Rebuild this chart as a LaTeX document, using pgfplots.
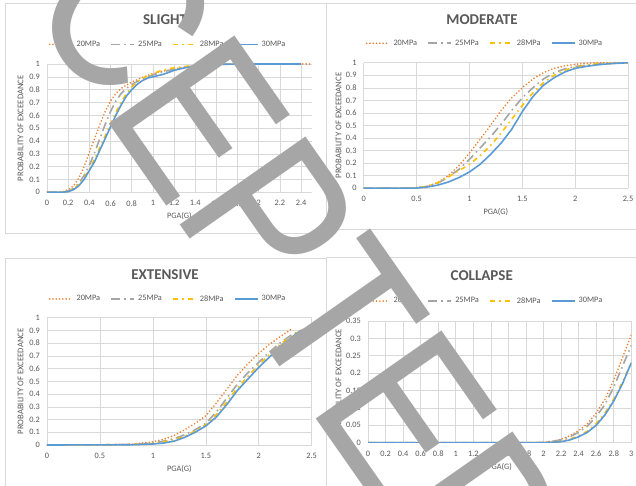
\documentclass[border=0pt]{standalone}
\usepackage{fontspec}
\setmainfont{Carlito}
\newfontfamily\wmfont{Liberation Sans}
\usepackage{graphicx}
\usepackage{pgfplots}
\pgfplotsset{compat=1.18}

\definecolor{c20}{HTML}{ED7D31}
\definecolor{c25}{HTML}{A5A5A5}
\definecolor{c28}{HTML}{FFC000}
\definecolor{c30}{HTML}{5B9BD5}
\definecolor{gridc}{HTML}{D9D9D9}
\definecolor{tc}{HTML}{595959}
\definecolor{wm}{RGB}{166,166,166}

\newcommand{\smallf}{\fontsize{8.3pt}{10pt}\selectfont}
\newcommand{\titlef}{\fontsize{15pt}{18pt}\selectfont\bfseries}

\pgfplotsset{
  panel/.style={
    scale only axis, anchor=south west,
    axis line style={draw=none},
    major tick length=0pt,
    grid=major, grid style={gridc, line width=0.6pt},
    tick label style={font=\smallf, text=tc, inner sep=0pt},
    xticklabel style={anchor=north},
    yticklabel style={anchor=east},
    xticklabel shift=8pt, yticklabel shift=7pt,
    /pgf/number format/assume math mode=true,
    /pgf/number format/fixed, /pgf/number format/precision=2,
    scaled ticks=false,
    xlabel={PGA(G)}, ylabel={PROBABILITY OF EXCEEDANCE},
    xlabel style={font=\smallf, text=tc, at={(axis description cs:0.5,0)}, yshift=-24pt, anchor=center, inner sep=0pt},
    ylabel style={font=\fontsize{8.7pt}{10pt}\selectfont, text=tc, anchor=center, inner sep=0pt},
    legend columns=4,
    legend image code/.code={\draw[##1] (0pt,0pt) -- (23pt,0pt);},
    legend style={draw=none, fill=none, font=\smallf, text=tc, anchor=center,
      nodes={inner sep=0pt},
      /tikz/every odd column/.append style={column sep=3pt},
      /tikz/every even column/.append style={column sep=10.5pt}},
    legend cell align=left,
  },
  s20/.style={c20, line width=1.8pt, line cap=round, dash pattern=on 0pt off 3.3pt},
  s25/.style={c25, line width=1.6pt, dash pattern=on 9pt off 4pt on 1.5pt off 4pt},
  s28/.style={c28, line width=1.6pt, dash pattern=on 5pt off 4pt on 1.5pt off 4pt},
  s30/.style={c30, line width=1.6pt},
}

\begin{document}
\begin{tikzpicture}[x=1pt,y=1pt]
\useasboundingbox (0,0) rectangle (636,485);
\clip (0,0) rectangle (636,485);
\fill[white] (0,0) rectangle (636,485);
% chart area borders
\draw[gridc, line width=0.8pt] (5,252) rectangle (326,482);
\draw[gridc, line width=0.8pt] (326,256) rectangle (640,482);
\draw[gridc, line width=0.8pt] (5,-5) rectangle (326,227);
\draw[gridc, line width=0.8pt] (326,-5) rectangle (640,227.5);

% ---------------- SLIGHT
\begin{axis}[panel, at={(47pt,292.7pt)}, width=264.7pt, height=128.3pt,
  xmin=0, xmax=2.5, ymin=0, ymax=1,
  xtick={0,0.2,0.4,0.6,0.8,1,1.2,1.4,1.6,1.8,2,2.2,2.4},
  ytick={0,0.1,0.2,0.3,0.4,0.5,0.6,0.7,0.8,0.9,1},
  ylabel style={at={(axis description cs:-0.0994,0.5)}},
  legend style={at={(axis description cs:0.4533,1.1535)}}]
\addplot[s20] coordinates {(0,0)(0.1,0)(0.15,0.005)(0.2,0.02)(0.25,0.05)(0.3,0.11)(0.35,0.2)(0.4,0.31)(0.45,0.42)(0.5,0.53)(0.55,0.63)(0.6,0.71)(0.65,0.77)(0.7,0.81)(0.8,0.86)(0.9,0.895)(1.0,0.925)(1.1,0.945)(1.2,0.96)(1.3,0.975)(1.4,0.985)(1.6,0.995)(1.8,1)(2.5,1)};
\addplot[s25] coordinates {(0,0)(0.15,0.002)(0.2,0.01)(0.25,0.03)(0.3,0.07)(0.35,0.13)(0.4,0.21)(0.45,0.31)(0.5,0.42)(0.55,0.53)(0.6,0.63)(0.65,0.71)(0.7,0.77)(0.75,0.81)(0.8,0.84)(0.9,0.885)(1.0,0.915)(1.1,0.94)(1.2,0.96)(1.3,0.975)(1.4,0.985)(1.6,0.996)(1.8,1)(2.4,1)};
\addplot[s28] coordinates {(0,0)(0.15,0.002)(0.2,0.01)(0.25,0.025)(0.3,0.06)(0.35,0.11)(0.4,0.18)(0.45,0.26)(0.5,0.35)(0.55,0.44)(0.6,0.53)(0.65,0.62)(0.7,0.7)(0.75,0.77)(0.8,0.82)(0.85,0.86)(0.9,0.89)(1.0,0.925)(1.1,0.955)(1.2,0.97)(1.3,0.98)(1.4,0.99)(1.6,0.998)(1.8,1)(2.4,1)};
\addplot[s30] coordinates {(0,0)(0.15,0.001)(0.2,0.005)(0.25,0.02)(0.3,0.05)(0.35,0.1)(0.4,0.17)(0.45,0.24)(0.5,0.33)(0.55,0.42)(0.6,0.51)(0.65,0.6)(0.7,0.68)(0.75,0.75)(0.8,0.8)(0.85,0.84)(0.9,0.87)(0.95,0.89)(1.0,0.9)(1.1,0.92)(1.2,0.95)(1.3,0.97)(1.4,0.985)(1.5,0.993)(1.6,0.998)(1.8,1)(2.4,1)};
\legend{20MPa,25MPa,28MPa,30MPa}
\end{axis}

% ---------------- MODERATE
\begin{axis}[panel, at={(363.7pt,296.7pt)}, width=264.3pt, height=125.6pt,
  xmin=0, xmax=2.5, ymin=0, ymax=1,
  xtick={0,0.5,1,1.5,2,2.5},
  ytick={0,0.1,0.2,0.3,0.4,0.5,0.6,0.7,0.8,0.9,1},
  ylabel style={at={(axis description cs:-0.0946,0.5)}},
  legend style={at={(axis description cs:0.455,1.1545)}}]
\addplot[s20] coordinates {(0,0)(0.4,0)(0.5,0.005)(0.6,0.015)(0.7,0.045)(0.8,0.1)(0.9,0.18)(1.0,0.28)(1.1,0.39)(1.2,0.5)(1.3,0.62)(1.4,0.72)(1.5,0.8)(1.6,0.87)(1.7,0.92)(1.8,0.955)(1.9,0.975)(2.0,0.987)(2.1,0.995)(2.2,1)(2.5,1)};
\addplot[s25] coordinates {(0,0)(0.4,0)(0.5,0.005)(0.6,0.015)(0.7,0.04)(0.8,0.09)(0.9,0.15)(1.0,0.23)(1.1,0.32)(1.2,0.41)(1.3,0.51)(1.4,0.62)(1.5,0.72)(1.6,0.8)(1.7,0.87)(1.8,0.92)(1.9,0.95)(2.0,0.97)(2.2,0.99)(2.4,1)(2.5,1)};
\addplot[s28] coordinates {(0,0)(0.4,0)(0.5,0.005)(0.6,0.015)(0.7,0.045)(0.8,0.09)(0.9,0.14)(1.0,0.19)(1.1,0.26)(1.2,0.34)(1.3,0.44)(1.4,0.55)(1.5,0.66)(1.6,0.76)(1.7,0.84)(1.8,0.9)(1.9,0.94)(2.0,0.965)(2.2,0.99)(2.5,1)};
\addplot[s30] coordinates {(0,0)(0.5,0.002)(0.6,0.01)(0.7,0.025)(0.8,0.05)(0.9,0.085)(1.0,0.13)(1.1,0.19)(1.2,0.27)(1.3,0.36)(1.4,0.47)(1.5,0.61)(1.6,0.73)(1.7,0.82)(1.8,0.88)(1.9,0.925)(2.0,0.955)(2.1,0.97)(2.2,0.982)(2.3,0.99)(2.5,1)};
\legend{20MPa,25MPa,28MPa,30MPa}
\end{axis}

% ---------------- EXTENSIVE
\begin{axis}[panel, at={(47pt,40pt)}, width=264.7pt, height=127.3pt,
  xmin=0, xmax=2.5, ymin=0, ymax=1,
  xtick={0,0.5,1,1.5,2,2.5},
  ytick={0,0.1,0.2,0.3,0.4,0.5,0.6,0.7,0.8,0.9,1},
  ylabel style={at={(axis description cs:-0.0994,0.5)}},
  legend style={at={(axis description cs:0.4533,1.147)}}]
\addplot[s20] coordinates {(0,0)(0.5,0.001)(0.8,0.006)(1.0,0.025)(1.1,0.045)(1.2,0.075)(1.3,0.12)(1.4,0.17)(1.5,0.23)(1.6,0.33)(1.7,0.44)(1.8,0.55)(1.9,0.64)(2.0,0.72)(2.1,0.79)(2.2,0.85)(2.3,0.905)};
\addplot[s25] coordinates {(0,0)(0.5,0.001)(0.8,0.004)(1.0,0.015)(1.1,0.03)(1.2,0.05)(1.3,0.08)(1.4,0.12)(1.5,0.17)(1.6,0.26)(1.7,0.37)(1.8,0.48)(1.9,0.57)(2.0,0.65)(2.1,0.73)(2.2,0.8)(2.3,0.86)(2.4,0.9)(2.5,0.93)};
\addplot[s28] coordinates {(0,0)(0.5,0.001)(0.8,0.004)(1.0,0.012)(1.1,0.025)(1.2,0.04)(1.3,0.07)(1.4,0.11)(1.5,0.16)(1.6,0.24)(1.7,0.34)(1.8,0.45)(1.9,0.54)(2.0,0.63)(2.1,0.71)(2.2,0.79)(2.3,0.85)(2.4,0.9)(2.5,0.93)};
\addplot[s30] coordinates {(0,0)(0.8,0.002)(1.0,0.008)(1.1,0.015)(1.2,0.03)(1.3,0.06)(1.4,0.1)(1.5,0.15)(1.6,0.22)(1.7,0.32)(1.8,0.43)(1.9,0.52)(2.0,0.61)(2.1,0.69)(2.2,0.77)(2.3,0.84)(2.4,0.9)};
\legend{20MPa,25MPa,28MPa,30MPa}
\end{axis}

% ---------------- COLLAPSE
\begin{axis}[panel, at={(368pt,42.3pt)}, width=263.3pt, height=121.7pt,
  xmin=0, xmax=3, ymin=0, ymax=0.35,
  xtick={0,0.2,0.4,0.6,0.8,1,1.2,1.4,1.6,1.8,2,2.2,2.4,2.6,2.8,3},
  ytick={0,0.05,0.1,0.15,0.2,0.25,0.3,0.35},
  ylabel style={at={(axis description cs:-0.1113,0.5)}},
  legend style={at={(axis description cs:0.4406,1.164)}}]
\addplot[s20] coordinates {(0,0)(1.8,0)(2.0,0.001)(2.1,0.004)(2.2,0.01)(2.3,0.02)(2.4,0.035)(2.5,0.055)(2.6,0.085)(2.7,0.125)(2.8,0.18)(2.9,0.245)(3.0,0.31)};
\addplot[s25] coordinates {(0,0)(1.9,0)(2.0,0.001)(2.1,0.004)(2.2,0.008)(2.3,0.017)(2.4,0.03)(2.5,0.048)(2.6,0.075)(2.7,0.11)(2.8,0.16)(2.9,0.22)(3.0,0.28)};
\addplot[s28] coordinates {(0,0)(2.0,0)(2.1,0.002)(2.2,0.004)(2.3,0.01)(2.4,0.02)(2.5,0.033)(2.6,0.055)(2.7,0.085)(2.8,0.125)(2.9,0.175)(3.0,0.23)};
\addplot[s30] coordinates {(0,0)(2.0,0)(2.1,0.001)(2.2,0.003)(2.3,0.008)(2.4,0.017)(2.5,0.03)(2.6,0.05)(2.7,0.08)(2.8,0.12)(2.9,0.17)(3.0,0.23)};
\legend{20MPa,25MPa,28MPa,30MPa}
\end{axis}

% titles
\node[font=\titlef, text=tc, inner sep=0pt] at (165,465) {SLIGHT};
\node[font=\titlef, text=tc, inner sep=0pt] at (482,465.7) {MODERATE};
\node[font=\titlef, text=tc, inner sep=0pt] at (165,210) {EXTENSIVE};
\node[font=\titlef, text=tc, inner sep=0pt] at (481.8,209) {COLLAPSE};

% watermark
\node[rotate=-55, anchor=base west, inner sep=0pt, text=wm] at (-123.4,693.9)
  {\scalebox{0.83}[1]{\wmfont\fontsize{223pt}{223pt}\selectfont ACCEPTED}};
\end{tikzpicture}
\end{document}
